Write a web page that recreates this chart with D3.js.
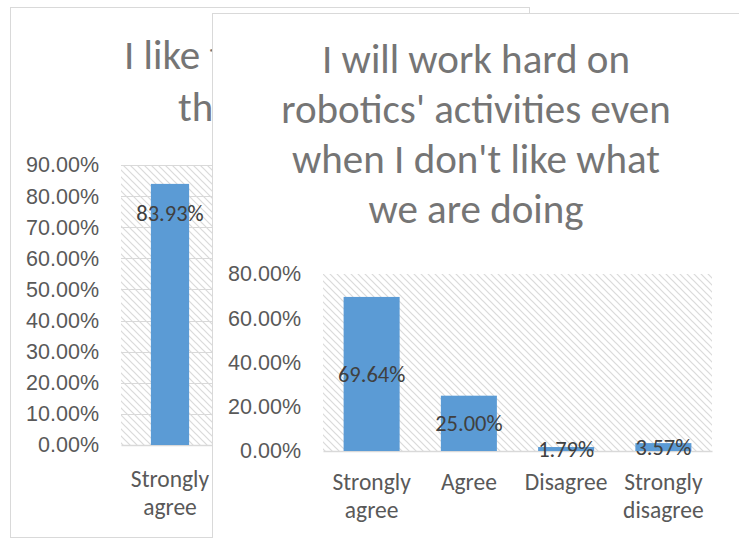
<!DOCTYPE html>
<html>
<head>
<meta charset="utf-8">
<script src="https://cdn.jsdelivr.net/npm/d3@7"></script>
<style>
  html, body { margin: 0; padding: 0; background: #ffffff; }
  svg { display: block; font-family: Calibri, Carlito, Lato, "Open Sans", sans-serif; }
</style>
</head>
<body>
<svg id="chart" width="739" height="538"></svg>
<script>
// Survey responses (share of students)
const categories = ["Strongly agree", "Agree", "Disagree", "Strongly disagree"];

// Rear chart: only its left part is in view
const backTitle = ["I like to", "the"];
const backCategories = ["Strongly agree"];
const backValues = [0.8393];
const backTicks = [0, 0.1, 0.2, 0.3, 0.4, 0.5, 0.6, 0.7, 0.8, 0.9];

// Front chart
const frontTitle = ["I will work hard on", "robotics' activities even", "when I don't like what", "we are doing"];
const frontValues = [0.6964, 0.25, 0.0179, 0.0357];
const frontTicks = [0, 0.2, 0.4, 0.6, 0.8];

const pct = d3.format(".2%");
const svg = d3.select("#chart");

const defs = svg.append("defs");
const pat = defs.append("pattern")
  .attr("id", "hatch")
  .attr("patternUnits", "userSpaceOnUse")
  .attr("width", 7).attr("height", 7);
pat.append("rect").attr("width", 7).attr("height", 7).attr("fill", "#ffffff");
pat.append("path")
  .attr("d", "M-2,-2 L9,9 M-2,5 L2,9 M5,-2 L9,2")
  .attr("stroke", "#dadada").attr("stroke-width", 1.2);

function drawPanel(cfg) {
  const g = svg.append("g");
  if (cfg.clip) {
    defs.append("clipPath").attr("id", cfg.clip.id)
      .append("rect").attr("x", cfg.clip.rect[0]).attr("y", cfg.clip.rect[1])
      .attr("width", cfg.clip.rect[2]).attr("height", cfg.clip.rect[3]);
  }
  g.append("rect")
    .attr("x", cfg.box[0] + 0.5).attr("y", cfg.box[1] + 0.5)
    .attr("width", cfg.box[2]).attr("height", cfg.box[3])
    .attr("fill", "#ffffff").attr("stroke", "#d9d9d9").attr("stroke-width", 1);

  const inner = g.append("g");
  if (cfg.clip) inner.attr("clip-path", `url(#${cfg.clip.id})`);

  // title
  inner.append("text")
    .attr("y", cfg.titleY)
    .attr("text-anchor", cfg.titleAnchor)
    .attr("font-size", 41).attr("fill", "#757575")
    .selectAll("tspan").data(cfg.title).join("tspan")
    .attr("x", (d, i) => cfg.titleX[i])
    .attr("dy", (d, i) => i === 0 ? 0 : cfg.titleGap)
    .text(d => d);

  const x = d3.scaleBand().domain(categories)
    .range(cfg.xRange).paddingInner(cfg.pad).paddingOuter(cfg.pad / 2);
  const y = d3.scaleLinear().domain([0, cfg.yMax]).range(cfg.yRange);

  // plot area
  inner.append("rect")
    .attr("x", cfg.xRange[0]).attr("y", cfg.yRange[1])
    .attr("width", cfg.xRange[1] - cfg.xRange[0])
    .attr("height", cfg.yRange[0] - cfg.yRange[1])
    .attr("fill", "url(#hatch)");

  if (cfg.grid) {
    inner.append("g").selectAll("line").data(cfg.ticks.slice(1)).join("line")
      .attr("x1", cfg.xRange[0]).attr("x2", cfg.xRange[1])
      .attr("y1", d => Math.round(y(d)) + 0.5).attr("y2", d => Math.round(y(d)) + 0.5)
      .attr("stroke", "#d9d9d9").attr("stroke-width", 1);
  }

  // y axis labels
  const yAxis = inner.append("g")
    .attr("transform", `translate(${cfg.yLabelX},0)`)
    .call(d3.axisLeft(y).tickValues(cfg.ticks).tickFormat(pct).tickSize(0).tickPadding(0));
  yAxis.select(".domain").remove();
  yAxis.selectAll("text")
    .attr("font-size", 21.5).attr("fill", "#595959")
    .attr("font-family", null);

  // x axis line and category labels
  const xAxis = inner.append("g")
    .attr("transform", `translate(0,${cfg.yRange[0]})`)
    .call(d3.axisBottom(x).tickSize(0).tickFormat(""));
  xAxis.select(".domain").attr("stroke", "#d9d9d9").attr("stroke-width", 1.5);
  xAxis.selectAll(".tick text").remove();

  const cat = inner.append("g");
  cfg.cats.forEach(c => {
    const words = c.split(" ");
    const lines = words.length > 1 ? [words.slice(0, -1).join(" "), words[words.length - 1]] : [c];
    const t = cat.append("text")
      .attr("x", x(c) + x.bandwidth() / 2)
      .attr("y", cfg.catY)
      .attr("text-anchor", "middle")
      .attr("font-size", 23.5).attr("fill", "#595959");
    t.selectAll("tspan").data(lines).join("tspan")
      .attr("x", x(c) + x.bandwidth() / 2)
      .attr("dy", (d, i) => i === 0 ? 0 : 28)
      .text(d => d);
  });

  // bars
  const data = cfg.cats.map((c, i) => ({ c, v: cfg.values[i] }));
  inner.append("g").selectAll("rect").data(data).join("rect")
    .attr("x", d => x(d.c)).attr("width", x.bandwidth())
    .attr("y", d => y(d.v)).attr("height", d => y(0) - y(d.v))
    .attr("fill", "#5b9bd5");

  // value labels
  inner.append("g").selectAll("text").data(data).join("text")
    .attr("x", d => x(d.c) + x.bandwidth() / 2)
    .attr("y", d => cfg.labelInsideEnd ? y(d.v) + cfg.labelInsideEnd : (y(d.v) + y(0)) / 2)
    .attr("dy", "0.35em")
    .attr("text-anchor", "middle")
    .attr("font-size", 22.5).attr("fill", "#404040")
    .text(d => pct(d.v));
}

drawPanel({
  box: [10, 7, 519, 530],
  clip: { id: "rearClip", rect: [0, 0, 212, 538] },
  title: backTitle, titleX: [124, 178], titleAnchor: "start", titleY: 69, titleGap: 52,
  xRange: [121, 513], pad: 0.61,
  yMax: 0.9, yRange: [445, 165], ticks: backTicks, grid: true,
  yLabelX: 99, catY: 487, labelInsideEnd: 29,
  cats: backCategories, values: backValues
});

drawPanel({
  box: [212, 13, 540, 540],
  title: frontTitle, titleX: [476, 476, 476, 476], titleAnchor: "middle", titleY: 73, titleGap: 50,
  xRange: [323, 712], pad: 0.424,
  yMax: 0.8, yRange: [451, 274], ticks: frontTicks, grid: false,
  yLabelX: 301, catY: 490,
  cats: categories, values: frontValues
});
</script>
</body>
</html>
